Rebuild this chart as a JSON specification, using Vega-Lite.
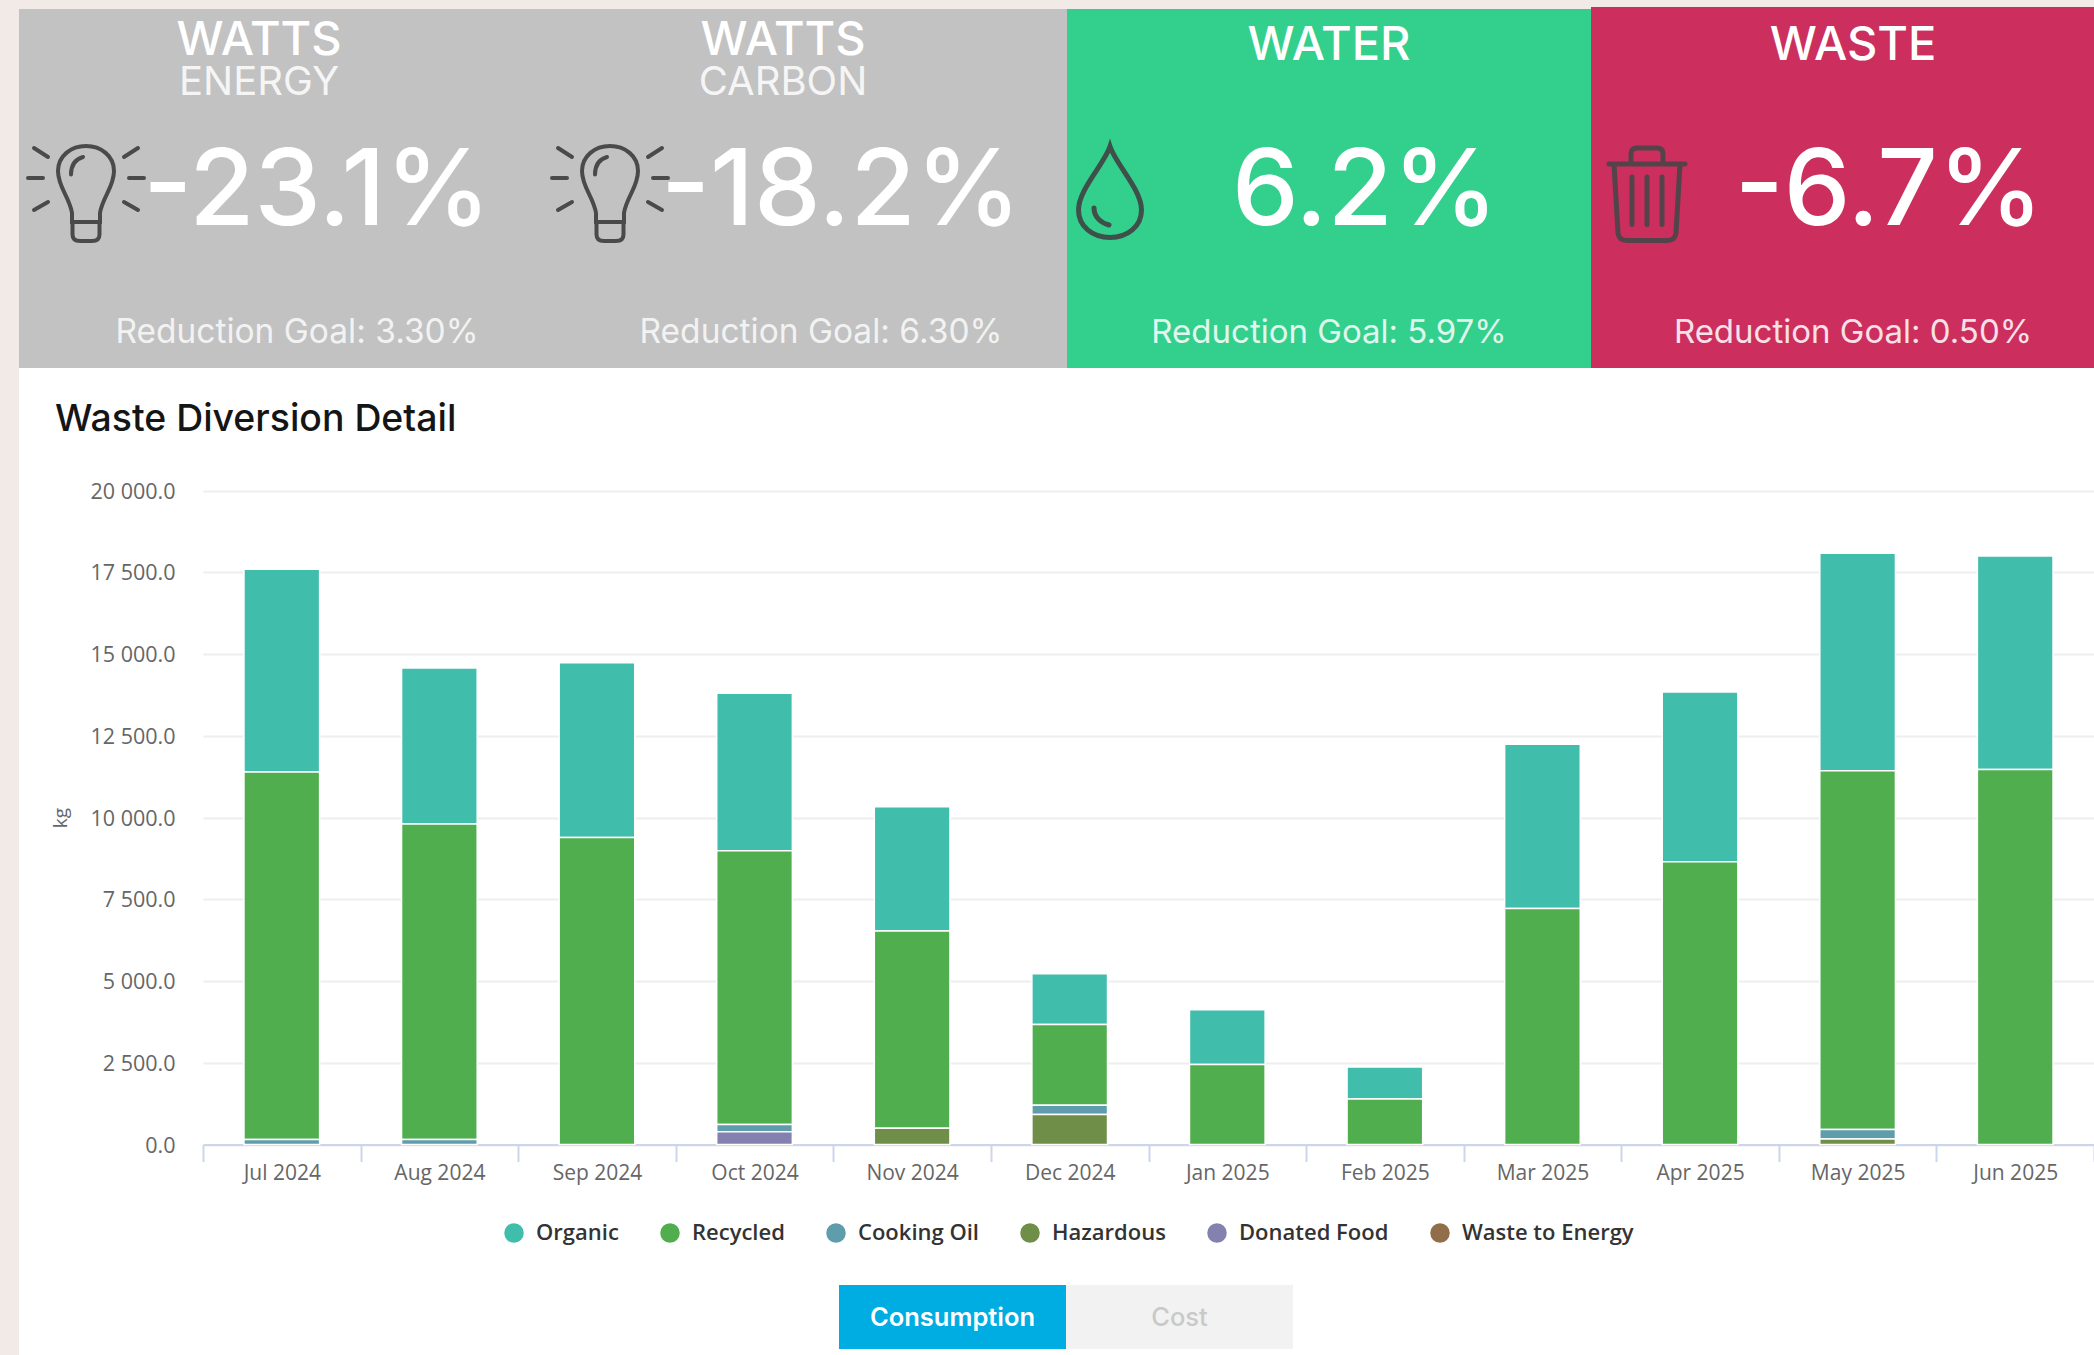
{
"$schema":"https://vega.github.io/schema/vega-lite/v6.json",
"width":2075,"height":1346,
"padding":{"left":19,"top":9,"right":0,"bottom":0},
"autosize":{"type":"none"},
"background":"#f1eae7",
"view":{"fill":"#ffffff","stroke":null},
"title":{"text":"Waste Diversion Detail","anchor":"start","frame":"group","baseline":"alphabetic","offset":0,"dx":36,"dy":461,"font":"Inter","fontSize":37.4,"fontWeight":500,"color":"#151515"},
"datasets":{
"tiles":[
{"tile":"Watts Energy","group":"watts","title":"WATTS","sub":"ENERGY","value":"-23.1%","goal":"Reduction Goal: 3.30%","icon":"bulb"},
{"tile":"Watts Carbon","group":"watts","title":"WATTS","sub":"CARBON","value":"-18.2%","goal":"Reduction Goal: 6.30%","icon":"bulb"},
{"tile":"Water","group":"res","title":"WATER","sub":"","value":"6.2%","goal":"Reduction Goal: 5.97%","icon":"drop"},
{"tile":"Waste","group":"res","title":"WASTE","sub":"","value":"-6.7%","goal":"Reduction Goal: 0.50%","icon":"trash"}
],
"waste":[
{"month":"Jul 2024","type":"Organic","rank":1,"kg":6200},{"month":"Jul 2024","type":"Recycled","rank":2,"kg":11240},{"month":"Jul 2024","type":"Cooking Oil","rank":3,"kg":150},
{"month":"Aug 2024","type":"Organic","rank":1,"kg":4770},{"month":"Aug 2024","type":"Recycled","rank":2,"kg":9650},{"month":"Aug 2024","type":"Cooking Oil","rank":3,"kg":150},
{"month":"Sep 2024","type":"Organic","rank":1,"kg":5340},{"month":"Sep 2024","type":"Recycled","rank":2,"kg":9390},
{"month":"Oct 2024","type":"Organic","rank":1,"kg":4820},{"month":"Oct 2024","type":"Recycled","rank":2,"kg":8370},{"month":"Oct 2024","type":"Cooking Oil","rank":3,"kg":220},{"month":"Oct 2024","type":"Donated Food","rank":5,"kg":390},
{"month":"Nov 2024","type":"Organic","rank":1,"kg":3800},{"month":"Nov 2024","type":"Recycled","rank":2,"kg":6030},{"month":"Nov 2024","type":"Hazardous","rank":4,"kg":500},
{"month":"Dec 2024","type":"Organic","rank":1,"kg":1550},{"month":"Dec 2024","type":"Recycled","rank":2,"kg":2470},{"month":"Dec 2024","type":"Cooking Oil","rank":3,"kg":280},{"month":"Dec 2024","type":"Hazardous","rank":4,"kg":920},
{"month":"Jan 2025","type":"Organic","rank":1,"kg":1670},{"month":"Jan 2025","type":"Recycled","rank":2,"kg":2450},
{"month":"Feb 2025","type":"Organic","rank":1,"kg":980},{"month":"Feb 2025","type":"Recycled","rank":2,"kg":1390},
{"month":"Mar 2025","type":"Organic","rank":1,"kg":5020},{"month":"Mar 2025","type":"Recycled","rank":2,"kg":7220},
{"month":"Apr 2025","type":"Organic","rank":1,"kg":5190},{"month":"Apr 2025","type":"Recycled","rank":2,"kg":8650},
{"month":"May 2025","type":"Organic","rank":1,"kg":6650},{"month":"May 2025","type":"Recycled","rank":2,"kg":10970},{"month":"May 2025","type":"Cooking Oil","rank":3,"kg":290},{"month":"May 2025","type":"Hazardous","rank":4,"kg":170},
{"month":"Jun 2025","type":"Organic","rank":1,"kg":6530},{"month":"Jun 2025","type":"Recycled","rank":2,"kg":11470}
],
"buttons":[{"button":"Consumption"},{"button":"Cost"}]
},
"resolve":{"scale":{"x":"independent","y":"independent","color":"independent"},"axis":{"x":"independent","y":"independent"},"legend":{"color":"independent"}},
"layer":[
{
"data":{"name":"tiles"},
"encoding":{"x":{"field":"tile","type":"nominal","sort":null,"axis":null,"scale":{"domain":["Watts Energy","Watts Carbon","Water","Waste"],"range":[0,2096],"paddingInner":0,"paddingOuter":0}}},
"layer":[
{"mark":{"type":"bar","clip":false},
 "encoding":{"y":{"datum":0,"type":"quantitative","axis":null,"scale":{"domain":[0,359],"range":[0,359],"nice":false,"zero":false}},"y2":{"datum":359},
 "color":{"field":"tile","type":"nominal","legend":null,"scale":{"domain":["Watts Energy","Watts Carbon","Water","Waste"],"range":["#c2c2c2","#c2c2c2","#33cf8d","#cc2f5e"]}}}},
{"transform":[{"filter":"datum.tile==='Waste'"}],"mark":{"type":"bar","clip":false,"color":"#cc2f5e"},
 "encoding":{"y":{"datum":-2,"type":"quantitative","axis":null},"y2":{"datum":0}}},
{"transform":[{"filter":"datum.group==='watts'"}],"mark":{"type":"text","font":"Inter","fontSize":47,"fontWeight":500,"color":"#ffffff","baseline":"alphabetic","align":"center","dx":-22},
 "encoding":{"y":{"datum":46,"type":"quantitative","axis":null},"text":{"field":"title"}}},
{"transform":[{"filter":"datum.group==='watts'"}],"mark":{"type":"text","font":"Inter","fontSize":40,"fontWeight":400,"color":"#ffffff","opacity":0.85,"baseline":"alphabetic","align":"center","dx":-22},
 "encoding":{"y":{"datum":86,"type":"quantitative","axis":null},"text":{"field":"sub"}}},
{"transform":[{"filter":"datum.group==='res'"}],"mark":{"type":"text","font":"Inter","fontSize":47,"fontWeight":500,"color":"#ffffff","baseline":"alphabetic","align":"center"},
 "encoding":{"y":{"datum":51,"type":"quantitative","axis":null},"text":{"field":"title"}}},
{"mark":{"type":"text","font":"Inter","fontSize":106,"fontWeight":500,"color":"#ffffff","baseline":"alphabetic","align":"center","dx":36},
 "encoding":{"y":{"datum":216,"type":"quantitative","axis":null},"text":{"field":"value"}}},
{"transform":[{"filter":"datum.group==='watts'"}],"mark":{"type":"text","font":"Inter","fontSize":33.5,"fontWeight":400,"color":"#ffffff","opacity":0.8,"baseline":"alphabetic","align":"center","dx":16},
 "encoding":{"y":{"datum":334,"type":"quantitative","axis":null},"text":{"field":"goal"}}},
{"transform":[{"filter":"datum.group==='res'"}],"mark":{"type":"text","font":"Inter","fontSize":33,"fontWeight":400,"color":"#ffffff","opacity":0.85,"baseline":"alphabetic","align":"center"},
 "encoding":{"y":{"datum":334,"type":"quantitative","axis":null},"text":{"field":"goal"}}},
{"transform":[{"filter":"datum.icon==='bulb'"}],"mark":{"type":"point","filled":false,"size":10000,"stroke":"#4a4a4a","strokeWidth":4,"strokeCap":"round","opacity":1,"xOffset":-195,"shape":"M-0.28 0.42 C-0.33 0.1 -0.56 -0.1 -0.56 -0.42 C-0.56 -0.72 -0.3 -0.92 0 -0.92 C0.3 -0.92 0.56 -0.72 0.56 -0.42 C0.56 -0.1 0.33 0.1 0.28 0.42 L0.28 0.6 L-0.28 0.6 Z M-0.27 0.6 L0.27 0.6 L0.27 0.85 Q0.27 0.98 0.12 0.98 L-0.12 0.98 Q-0.27 0.98 -0.27 0.85 Z M-0.3 -0.35 C-0.3 -0.55 -0.2 -0.66 -0.06 -0.7 M-1.16 -0.28 L-0.86 -0.28 M-1.04 -0.88 L-0.76 -0.7 M-1.04 0.36 L-0.76 0.2 M1.16 -0.28 L0.86 -0.28 M1.04 -0.88 L0.76 -0.7 M1.04 0.36 L0.76 0.2"},
 "encoding":{"y":{"datum":183,"type":"quantitative","axis":null}}},
{"transform":[{"filter":"datum.icon==='drop'"}],"mark":{"type":"point","filled":false,"size":10000,"stroke":"#3f4f4a","strokeWidth":5,"strokeCap":"round","opacity":1,"xOffset":-219,"shape":"M0 -0.91 C0.12 -0.55 0.63 -0.05 0.63 0.36 C0.63 0.69 0.35 0.91 0 0.91 C-0.35 0.91 -0.63 0.69 -0.63 0.36 C-0.63 -0.05 -0.12 -0.55 0 -0.91 Z M-0.32 0.32 C-0.32 0.5 -0.18 0.62 -0.02 0.66"},
 "encoding":{"y":{"datum":183,"type":"quantitative","axis":null}}},
{"transform":[{"filter":"datum.icon==='trash'"}],"mark":{"type":"point","filled":false,"size":10000,"stroke":"#54434a","strokeWidth":5,"strokeCap":"round","opacity":1,"xOffset":-206,"shape":"M-0.76 -0.56 L0.76 -0.56 M-0.66 -0.56 L-0.58 0.82 Q-0.56 0.97 -0.4 0.97 L0.4 0.97 Q0.56 0.97 0.58 0.82 L0.66 -0.56 M-0.32 -0.56 L-0.32 -0.76 Q-0.32 -0.88 -0.2 -0.88 L0.2 -0.88 Q0.32 -0.88 0.32 -0.76 L0.32 -0.56 M-0.3 -0.3 L-0.3 0.65 M0 -0.3 L0 0.65 M0.3 -0.3 L0.3 0.65"},
 "encoding":{"y":{"datum":183,"type":"quantitative","axis":null}}}
]
},
{
"data":{"name":"waste"},
"mark":{"type":"bar","stroke":"#ffffff","strokeWidth":1.5,"width":{"band":0.48}},
"encoding":{
"x":{"field":"month","type":"ordinal","sort":null,"title":null,
 "scale":{"domain":["Jul 2024","Aug 2024","Sep 2024","Oct 2024","Nov 2024","Dec 2024","Jan 2025","Feb 2025","Mar 2025","Apr 2025","May 2025","Jun 2025"],"range":[184,2075],"paddingInner":0,"paddingOuter":0},
 "axis":{"orient":"bottom","offset":-210.5,"tickBand":"extent","domainColor":"#ccd6eb","domainWidth":2,"tickColor":"#ccd6eb","tickWidth":2,"tickSize":17,"labelAngle":0,"labelFont":"Open Sans","labelFontSize":21,"labelColor":"#666666","labelPadding":1,"grid":false}},
"y":{"field":"kg","type":"quantitative","stack":"zero",
 "scale":{"domain":[0,20000],"range":[1135.5,481.5],"nice":false},
 "axis":{"orient":"left","offset":-184,"title":"kg","titleFont":"Open Sans","titleFontSize":19,"titleFontWeight":"normal","titleColor":"#666666","titlePadding":20,"values":[0,2500,5000,7500,10000,12500,15000,17500,20000],"labelExpr":"replace(format(datum.value,',.1f'),',',' ')","labelFont":"Open Sans","labelFontSize":21.5,"labelColor":"#666666","labelPadding":28,"labelOffset":1.5,"tickSize":0,"ticks":false,"domain":false,"grid":true,"gridColor":"#eeeeee","gridWidth":2}},
"order":{"field":"rank","type":"quantitative","sort":"descending"},
"color":{"field":"type","type":"nominal","sort":null,
 "scale":{"domain":["Organic","Recycled","Cooking Oil","Hazardous","Donated Food","Waste to Energy"],"range":["#40bdab","#50ae4f","#5f9cac","#6f8e48","#8480b0","#916d4a"]},
 "legend":{"orient":"none","direction":"horizontal","columns":6,"legendX":484,"legendY":1209,"title":null,"symbolType":"circle","symbolSize":380,"symbolStrokeWidth":0,"symbolOpacity":1,"labelFont":"Open Sans","labelFontSize":22,"labelFontWeight":600,"labelColor":"#333333","labelOffset":11,"labelLimit":300,"columnPadding":40,"clipHeight":30}}
}
},
{
"data":{"name":"buttons"},
"encoding":{"x":{"field":"button","type":"nominal","sort":null,"axis":null,"scale":{"domain":["Consumption","Cost"],"range":[820,1274],"paddingInner":0,"paddingOuter":0}}},
"layer":[
{"mark":{"type":"bar"},
 "encoding":{"y":{"datum":0,"type":"quantitative","axis":null,"scale":{"domain":[0,64],"range":[1276,1340],"nice":false}},"y2":{"datum":64},
 "color":{"field":"button","type":"nominal","legend":null,"scale":{"domain":["Consumption","Cost"],"range":["#00ade2","#f2f2f2"]}}}},
{"transform":[{"filter":"datum.button==='Consumption'"}],"mark":{"type":"text","font":"Inter","fontSize":25.5,"fontWeight":600,"baseline":"middle","align":"center","color":"#ffffff"},
 "encoding":{"y":{"datum":33,"type":"quantitative","axis":null},"text":{"field":"button"}}},
{"transform":[{"filter":"datum.button==='Cost'"}],"mark":{"type":"text","font":"Inter","fontSize":25.5,"fontWeight":500,"baseline":"middle","align":"center","color":"#c9c9c9"},
 "encoding":{"y":{"datum":33,"type":"quantitative","axis":null},"text":{"field":"button"}}}
]
}
]
}
